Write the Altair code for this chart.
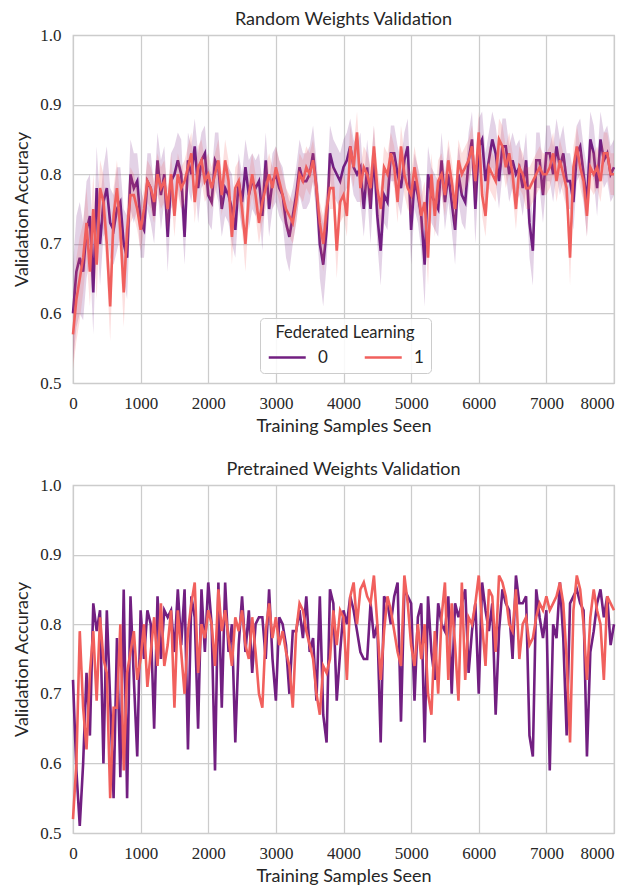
import altair as alt
import pandas as pd

STEPS = list(range(0, 8001, 50))

# Random weights (top): mean accuracy in percent per series, and confidence half-widths
RW0 = [60,66,68,66,72,74,63,78,70,76, 78,73,72,75,76,70,68,80,78,79, 73,72,79,78,74,82,77,80,71,79, 80,82,80,71,82,80,84,78,82,83, 77,
       76,82,81,75,78,77,75,72,79,76, 81,77,79,78,79,74,82,75,79,80, 78,77,73,71,74,77,81,79,79,80, 83,78,70,67,72,83,81,80,79,81,
       82,84,81,80,81,75,81,75,83,74, 69,77,76,83,83,80,78,82,84,72, 79,77,74,67,80,77,76,75,82,76, 80,76,72,80,77,76,82,85,75,84,
       85,79,82,85,83,79,84,84,80,82, 80,81,78,82,73,69,82,82,77,83, 83,80,84,81,83,79,79,76,83,84, 80,76,85,83,78,85,82,83,80,81]
RW1 = [57,62,65,68,73,66,75,67,78,76, 70,61,74,78,72,63,72,77,77,75, 72,75,79,78,76,80,78,79,75,80, 74,80,78,79,81,83,76,81,82,79, 80,
       78,80,82,77,82,79,71,78,79,75, 70,77,80,77,73,76,78,80,78,81, 79,77,75,74,73,76,80,79,81,80, 82,78,73,70,75,78,78,69,76,77,
       74,84,81,86,78,81,80,78,84,78, 75,81,80,83,81,76,84,80,78,77, 81,78,74,76,68,80,74,79,80,77, 82,79,75,82,80,81,82,84,79,86,
       77,74,81,80,79,85,84,81,83,80, 75,81,80,78,78,79,80,81,80,80, 81,83,79,82,80,78,68,81,84,81, 79,74,81,80,81,79,83,83,80,80]
RW0_CI = [7,8,8,7,7,6,6,6,6,5, 6,5,5,6,5,5,6,5,5,4, 5,4,4,5,4,4,5,4,5,4, 4,4,5,4,4,4,4,5,4,4, 4,
          4,4,5,4,4,4,5,4,4,4, 4,5,4,4,4,5,4,4,4,4, 4,4,5,5,4,4,4,4,4,4, 4,4,5,6,5,4,4,4,4,4,
          4,4,4,4,5,4,4,5,4,4, 5,4,4,4,4,4,4,4,4,5, 4,4,5,6,4,4,4,4,4,4, 4,4,5,4,4,4,4,4,5,4,
          4,4,4,4,4,4,4,4,4,4, 4,4,4,4,5,5,4,4,4,4, 4,4,4,4,4,4,4,4,4,4, 4,5,4,4,4,4,4,4,4,4]
RW1_CI = [5,6,6,5,5,5,5,5,4,4, 4,5,4,4,4,5,4,4,3,3, 3,3,3,3,3,3,3,3,3,3, 3,3,3,3,3,3,3,3,3,3, 3,
          3,3,3,3,3,3,4,3,3,3, 4,3,3,3,3,3,3,3,3,3, 3,3,3,3,3,3,3,3,3,3, 3,3,3,4,3,3,3,4,3,3,
          3,3,3,3,3,3,3,3,3,3, 3,3,3,3,3,3,3,3,3,3, 3,3,3,3,4,3,3,3,3,3, 3,3,3,3,3,3,3,3,3,3,
          3,3,3,3,3,3,3,3,3,3, 3,3,3,3,3,3,3,3,3,3, 3,3,3,3,3,3,4,3,3,3, 3,3,3,3,3,3,3,3,3,3]

# Pretrained weights (bottom): accuracy in percent per series
PW0 = [72,59,51,60,73,64,83,79,82,60, 82,69,55,78,58,85,55,84,72,61, 82,75,82,80,65,84,75,82,81,82, 76,85,77,85,62,84,81,65,85,76, 86,
       80,59,86,68,86,76,80,63,77,84, 76,82,73,80,81,81,75,85,75,69, 81,80,77,70,79,79,82,78,84,76, 78,69,84,67,63,85,83,69,76,82,
       80,84,82,79,76,75,75,83,78,80, 63,84,83,80,84,86,66,85,84,83, 69,81,83,63,84,76,72,83,80,79, 84,70,83,81,83,85,73,79,83,70,
       86,82,79,83,67,79,85,83,82,75, 87,83,83,84,64,61,85,81,78,82, 59,80,78,86,78,64,83,84,85,83, 82,61,76,79,83,85,81,84,77,80]
PW1 = [52,60,79,68,62,73,79,69,81,75, 73,55,68,68,80,59,73,76,79,72, 75,80,71,76,81,74,83,74,77,82, 68,82,76,70,79,83,86,73,80,78, 82,
       80,74,85,79,82,78,74,81,79,82, 77,75,81,76,70,68,79,83,78,81, 77,79,76,74,68,79,83,82,79,77, 75,70,67,74,73,75,82,77,82,81,
       72,84,86,80,85,86,84,83,87,80, 72,79,84,82,79,76,74,87,83,77, 74,80,75,80,70,67,79,70,81,86, 72,83,77,69,86,72,81,80,83,87,
       80,74,85,84,76,87,86,84,80,79, 85,75,80,81,77,78,81,83,82,84, 82,83,84,86,83,75,63,82,87,85, 80,72,81,85,82,80,72,84,83,82]

SERIES = ["0", "1"]
COLORS = ["#721f81", "#f1605d"]
X_TICKS = list(range(0, 8001, 1000))
Y_TICKS = [0.5, 0.6, 0.7, 0.8, 0.9, 1.0]

SANS = "Lato"
SERIF = "Liberation Serif, DejaVu Serif, serif"


def frame(a0, a1, c0=None, c1=None):
    rows = []
    for name, vals, ci in [("0", a0, c0), ("1", a1, c1)]:
        for i, s in enumerate(STEPS):
            v = vals[i] / 100
            h = (ci[i] / 100) if ci else 0
            rows.append({"step": s, "fl": name, "acc": v, "lo": v - h, "hi": v + h})
    return pd.DataFrame(rows)


X = alt.X("step:Q", scale=alt.Scale(domain=[0, 8000], nice=False),
          axis=alt.Axis(values=X_TICKS, format="d", title="Training Samples Seen",
                        labelFlush=False, labelFont=SERIF, labelFontSize=17,
                        labelAlign={"condition": {"test": "datum.value == 8000", "value": "right"},
                                    "value": "center"},
                        labelPadding=12, titlePadding=6))
YAX = alt.Axis(values=Y_TICKS, format=".1f", title="Validation Accuracy",
               labelFlush=False, labelFont=SERIF, labelFontSize=17,
               labelPadding=12, titlePadding=8)
YS = alt.Scale(domain=[0.5, 1.0], nice=False, zero=False)

LEG = alt.Legend(title="Federated Learning", orient="none", legendX=187, legendY=283,
                 direction="horizontal", columns=2, symbolType="M-1,0L3,0", symbolSize=342,
                 symbolStrokeWidth=2.6, labelFontSize=17, titleFontSize=16.5,
                 labelFont=SANS, titleFont=SANS, titleFontWeight="normal",
                 labelColor="#262626", titleColor="#262626",
                 fillColor="rgba(255,255,255,0.85)", strokeColor="#cccccc",
                 cornerRadius=4, padding=7, columnPadding=31, labelOffset=29,
                 titleAnchor="middle", titlePadding=5)


def panel(df, title, bands):
    base = alt.Chart(df)
    layers = []
    for k, name in enumerate(SERIES):
        sub = base.transform_filter(alt.datum.fl == name)
        layers.append(sub.mark_line(strokeWidth=2.6).encode(
            x=X, y=alt.Y("acc:Q", scale=YS, axis=YAX),
            color=alt.Color("fl:N", scale=alt.Scale(domain=SERIES, range=COLORS), legend=LEG)))
        if bands:
            layers.append(sub.mark_area(opacity=0.2).encode(
                x=X, y=alt.Y("lo:Q", scale=YS, axis=YAX), y2="hi:Q",
                fill=alt.value(COLORS[k])))
    return alt.layer(*layers).properties(width=541, height=348, title=title)


top = panel(frame(RW0, RW1, RW0_CI, RW1_CI), "Random Weights Validation", True)
bottom = panel(frame(PW0, PW1), "Pretrained Weights Validation", False)

chart = alt.vconcat(top, bottom, spacing=24).properties(
    padding={"left": 5, "top": 2, "right": 0, "bottom": 0}
).configure_view(stroke="#cccccc", strokeWidth=1.25).configure_axis(
    gridColor="#cccccc", gridWidth=1.25, domain=False, ticks=False,
    labelColor="#262626",
    titleFont=SANS, titleFontSize=18, titleFontWeight="normal", titleColor="#262626"
).configure_title(font=SANS, fontSize=18, fontWeight="normal", color="#262626", offset=-3)

chart.save("out.html", embed_options={"renderer": "svg", "actions": False})
